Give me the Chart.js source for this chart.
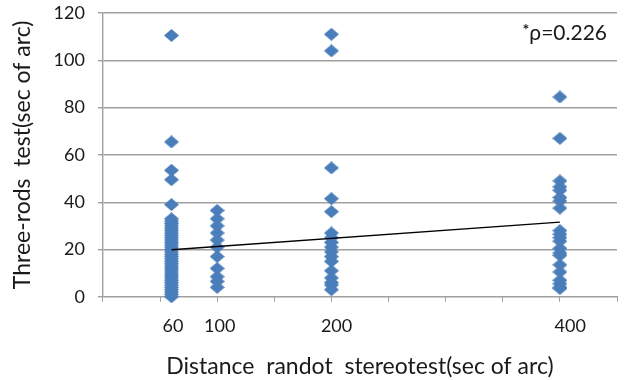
<!DOCTYPE html>
<html>
<head>
<meta charset="utf-8">
<script src="https://cdn.jsdelivr.net/npm/chart.js@4.4.1/dist/chart.umd.min.js"></script>
<style>
html,body{margin:0;padding:0;background:#fff;}
#wrap{width:629px;height:380px;}
</style>
</head>
<body>
<div id="wrap"><canvas id="chart"></canvas></div>
<script>
// values
const xGroups = [60, 100, 200, 400];
const y60 = [110.5, 65.5, 53.5, 49.5, 39, 33, 32, 31, 30, 29, 28, 27, 26, 25, 24, 23, 22, 21, 20, 19, 18, 17, 16, 15, 14, 13, 12, 11, 10, 9, 8, 7, 6, 5, 4, 3, 2, 1, 0];
const y100 = [36.5, 33, 30, 27, 24, 21, 17, 12, 8.5, 6.5, 4];
const y200 = [111, 104, 54.5, 41.5, 36, 27, 25, 23, 21, 19, 17, 15, 11, 8, 6, 5, 3];
const y400 = [84.5, 67, 49, 46.5, 45, 42, 40.5, 37.5, 28, 26.5, 25, 23.5, 20.5, 18.5, 17.5, 13.5, 10.5, 7, 5.5, 4, 3.5];
const trendX = [60, 400];
const trendY = [19.9, 31.6];
const xTickLabels = [60, 100, 200, 400];
const yTicks = [0, 20, 40, 60, 80, 100, 120];
const rhoText = '*\u03c1=0.226';

const FONT = 'Lato, "Open Sans", sans-serif';
const BLUE = '#4a7ebb';
const GRID = '#a0a0a0';
const TEXT = '#1a1a1a';

function diamond(w, h){
  const c = document.createElement('canvas');
  c.width = w; c.height = h;
  const g = c.getContext('2d');
  g.fillStyle = BLUE;
  g.beginPath();
  g.moveTo(w/2, 0); g.lineTo(w, h/2); g.lineTo(w/2, h); g.lineTo(0, h/2);
  g.closePath(); g.fill();
  return c;
}

const groups = [y60, y100, y200, y400];
const points = [];
groups.forEach((ys, i) => ys.forEach(y => points.push({x: xGroups[i], y: y})));
const trend = trendX.map((x, i) => ({x: x, y: trendY[i]}));

const rhoLabel = {
  id: 'rhoLabel',
  afterDraw(chart){
    const {ctx, chartArea} = chart;
    const main = rhoText.slice(1);
    ctx.save();
    ctx.fillStyle = TEXT;
    ctx.textBaseline = 'middle';
    ctx.textAlign = 'right';
    ctx.font = '21px ' + FONT;
    ctx.fillText(main, chartArea.right - 10, chartArea.top + 20);
    const w = ctx.measureText(main).width;
    ctx.font = 'bold 16px ' + FONT;
    ctx.fillText('*', chartArea.right - 10 - w, chartArea.top + 17);
    ctx.restore();
  }
};

new Chart(document.getElementById('chart'), {
  data: {
    datasets: [
      {
        type: 'line',
        data: trend,
        borderColor: '#000',
        borderWidth: 1.3,
        pointRadius: 0,
        fill: false,
        order: 0
      },
      {
        type: 'scatter',
        data: points,
        pointStyle: diamond(15, 13),
        pointRadius: 7,
        clip: false,
        order: 1
      }
    ]
  },
  options: {
    responsive: true,
    maintainAspectRatio: false,
    animation: false,
    events: [],
    layout: { padding: { left: 9, right: 12, top: 0, bottom: 0 } },
    plugins: { legend: { display: false }, tooltip: { enabled: false } },
    scales: {
      x: {
        type: 'linear',
        position: 'bottom',
        min: 0, max: 450,
        ticks: { display: false, stepSize: 50 },
        grid: { display: true, drawOnChartArea: false, drawTicks: true, tickLength: 5, color: GRID },
        border: { color: GRID }
      },
      x2: {
        type: 'linear',
        position: 'bottom',
        min: 0, max: 440,
        afterBuildTicks: axis => { axis.ticks = xTickLabels.map(v => ({value: v})); },
        ticks: { color: TEXT, font: { family: FONT, size: 18 }, padding: 14, maxRotation: 0 },
        grid: { display: false, drawTicks: false, tickLength: 0 },
        border: { display: false },
        title: { display: true, text: 'Distance  randot  stereotest(sec of arc)', color: TEXT, font: { family: FONT, size: 23 }, padding: { top: 1, bottom: 0 } }
      },
      y: {
        type: 'linear',
        min: 0, max: 120,
        afterBuildTicks: axis => { axis.ticks = yTicks.map(v => ({value: v})); },
        afterFit: scale => { scale.paddingTop = 13; },
        ticks: { color: TEXT, font: { family: FONT, size: 18 }, padding: 13 },
        grid: { color: GRID, tickLength: 5, lineWidth: 1.4 },
        border: { color: GRID, width: 1.4 },
        title: { display: true, text: 'Three-rods  test(sec of arc)', color: TEXT, font: { family: FONT, size: 23 }, padding: { top: 0, bottom: 4 } }
      }
    }
  },
  plugins: [rhoLabel]
});
</script>
</body>
</html>
